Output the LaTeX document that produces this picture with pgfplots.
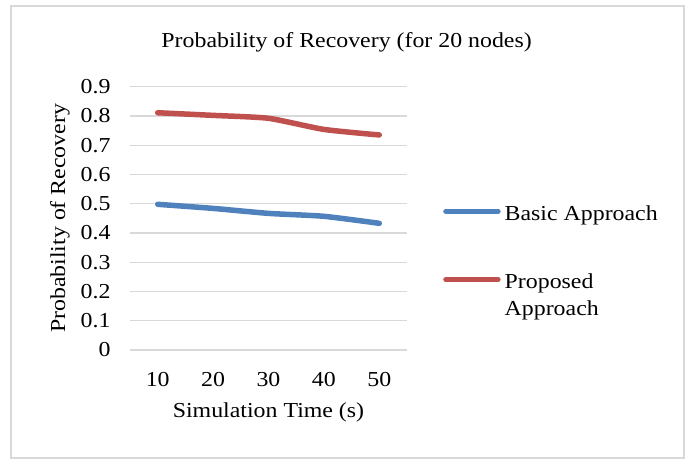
\documentclass[border=0pt]{standalone}
\usepackage{pgfplots}
\pgfplotsset{compat=1.18}
\usepackage{fontspec}
\setmainfont[FakeStretch=1.12]{Liberation Serif}
\definecolor{xlblue}{HTML}{4F81BD}
\definecolor{xlred}{HTML}{C0504D}
\definecolor{xlgrid}{HTML}{D9D9D9}
\definecolor{xlframe}{HTML}{D9D9D9}
\begin{document}
\begin{tikzpicture}[x=1pt,y=1pt]
\useasboundingbox (0,0) rectangle (691,462);
\draw[xlframe, line width=1.2pt] (11,4) rectangle (684,456);
\begin{axis}[
  at={(130pt,112pt)}, anchor=south west,
  scale only axis, width=277pt, height=263.3pt,
  xmin=5, xmax=55, ymin=0, ymax=0.9,
  xtick={10,20,30,40,50},
  ytick={0,0.1,0.2,0.3,0.4,0.5,0.6,0.7,0.8,0.9},
  yticklabels={0,0.1,0.2,0.3,0.4,0.5,0.6,0.7,0.8,0.9},
  xticklabels={10,20,30,40,50},
  axis line style={draw=none},
  major tick length=0pt,
  ymajorgrids, grid style={xlgrid, line width=1.3pt},
  font=\fontsize{21.3}{26}\selectfont,
  /pgf/number format/assume math mode=true,
  yticklabel style={anchor=east, xshift=-16pt},
  xticklabel style={anchor=base, yshift=-37pt},
  title={Probability of Recovery (for 20 nodes)},
  title style={font=\fontsize{21.3}{26}\selectfont, at={(axis description cs:0.782,1.127)}, anchor=base},
  xlabel={Simulation Time (s)},
  xlabel style={at={(axis description cs:0.5,-0.2355)}, anchor=center},
  ylabel={Probability of Recovery},
  ylabel style={at={(axis description cs:-0.2527,0.5)}, anchor=center},
  legend style={at={(axis description cs:1.13,0.549)}, anchor=north west, draw=none, fill=none,
    font=\fontsize{21.3}{27}\selectfont, row sep=52pt, inner sep=0pt,
    nodes={inner sep=0pt},
    /tikz/every odd column/.append style={column sep=4pt}},
  legend cell align=left,
  legend image code/.code={\draw[#1, line width=5.5pt, line cap=round] (0pt,2.5pt) -- (52pt,2.5pt);},
  clip=false,
]
\addplot[xlblue, line width=5.5pt, line cap=round, smooth, tension=0.35] coordinates {
 (10,0.498) (20,0.484) (30,0.467) (40,0.457) (50,0.433)};
\addlegendentry{Basic Approach}
\addplot[xlred, line width=5.5pt, line cap=round, smooth, tension=0.35] coordinates {
 (10,0.811) (20,0.802) (30,0.792) (40,0.754) (50,0.735)};
\addlegendentry{\vtop{\baselineskip=27pt\hbox{Proposed}\hbox{Approach}}}
\end{axis}
\end{tikzpicture}
\end{document}
